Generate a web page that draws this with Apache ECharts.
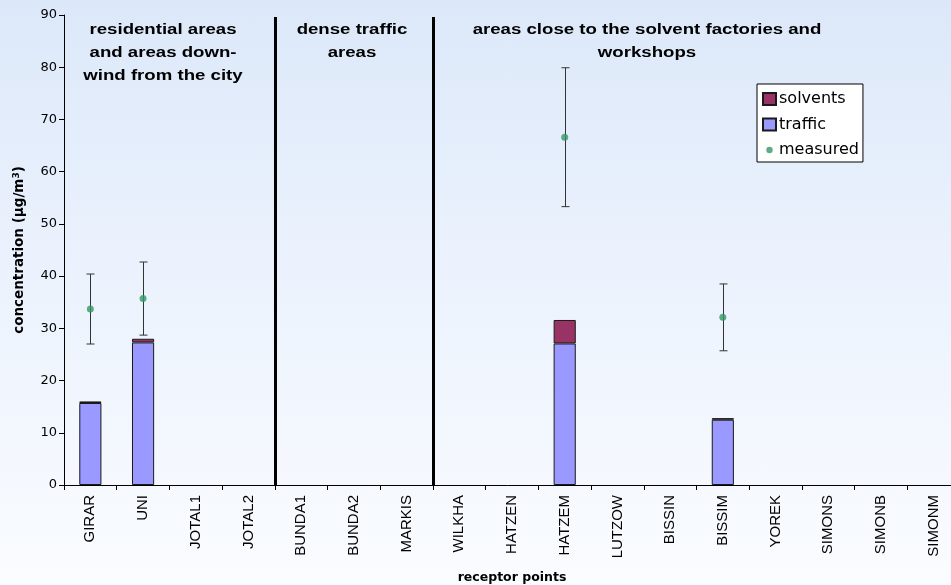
<!DOCTYPE html>
<html>
<head>
<meta charset="utf-8">
<script src="https://cdn.jsdelivr.net/npm/echarts@6/dist/echarts.min.js"></script>
<style>
  html, body { margin: 0; padding: 0; overflow: hidden; }
  #chart {
    width: 951px; height: 585px;
    background: linear-gradient(to bottom, #dce8f9 0%, #ebf2fd 45%, #fafcff 100%);
  }
</style>
</head>
<body>
<div id="chart"></div>
<script>
// Receptor points along the x axis
const receptors = ['GIRAR', 'UNI', 'JOTAL1', 'JOTAL2', 'BUNDA1', 'BUNDA2', 'MARKIS',
  'WILKHA', 'HATZEN', 'HATZEM', 'LUTZOW', 'BISSIN', 'BISSIM', 'YOREK', 'SIMONS', 'SIMONB', 'SIMONM'];

// Modelled contributions (µg/m³)
const traffic  = [15.7, 27.3, null, null, null, null, null, null, null, 27.1, null, null, 12.5, null, null, null, null];
const solvents = [0.3, 0.7, null, null, null, null, null, null, null, 4.5, null, null, 0.3, null, null, null, null];

// Measured concentrations with lower / upper uncertainty limits
const measured = [33.7, 35.7, null, null, null, null, null, null, null, 66.6, null, null, 32.1, null, null, null, null];
const measuredLow  = [27.0, 28.7, null, null, null, null, null, null, null, 53.3, null, null, 25.7, null, null, null, null];
const measuredHigh = [40.4, 42.7, null, null, null, null, null, null, null, 79.9, null, null, 38.5, null, null, null, null];

// Boundaries between the area groups (in category units from the left edge)
const groupBounds = [4, 7];
const yTicks = [0, 10, 20, 30, 40, 50, 60, 70, 80, 90];

const SANS = 'Liberation Sans, Arial, sans-serif';
const WIDE = 'DejaVu Sans, sans-serif';

const errorData = [];
measured.forEach((v, i) => {
  if (v != null) errorData.push([i, measuredLow[i], measuredHigh[i]]);
});

// small dot inside a full-size box so the legend marker stays small
const dotIcon = 'path://M0,0M13,12M6.5,2.8A3.2,3.2,0,1,1,6.49,2.8Z';

const chart = echarts.init(document.getElementById('chart'));
chart.setOption({
  animation: false,
  textStyle: { fontFamily: SANS },
  grid: { left: 64, right: -9, top: 15, bottom: 100, containLabel: false, outerBoundsMode: 'none' },
  legend: {
    orient: 'vertical',
    left: 757, top: 84,
    data: [
      { name: 'solvents', icon: 'rect' },
      { name: 'traffic', icon: 'rect' },
      { name: 'measured', icon: dotIcon }
    ],
    itemWidth: 13, itemHeight: 12, itemGap: 9.5,
    padding: [7, 4, 4, 5],
    backgroundColor: '#ffffff',
    borderColor: '#000000', borderWidth: 1, borderRadius: 0,
    textStyle: { fontSize: 16, lineHeight: 16, color: '#000', fontFamily: WIDE, padding: [0, 0, 0, -2] }
  },
  xAxis: [{
    type: 'category',
    data: receptors,
    name: 'receptor points',
    nameLocation: 'middle',
    nameGap: 86,
    nameTextStyle: { fontSize: 12.5, fontWeight: 'bold', color: '#000', fontFamily: WIDE },
    axisLine: { lineStyle: { color: '#000', width: 1 } },
    axisTick: { show: true, length: 5, lineStyle: { color: '#000' } },
    axisLabel: { rotate: 90, fontSize: 15, color: '#000', margin: 10, interval: 0 }
  }, {
    type: 'value',
    min: 0, max: receptors.length,
    show: false
  }],
  yAxis: {
    type: 'value',
    min: 0, max: 90, interval: 10,
    name: 'concentration (μg/m{sup|3})',
    nameLocation: 'middle',
    nameRotate: 90,
    nameGap: 37,
    nameTextStyle: {
      fontSize: 13.5, fontWeight: 'bold', color: '#000', fontFamily: WIDE,
      rich: { sup: { fontSize: 9, fontWeight: 'bold', fontFamily: WIDE, verticalAlign: 'top', padding: [0, 0, 6, 0] } }
    },
    axisLine: { show: true, lineStyle: { color: '#000', width: 1 } },
    axisTick: { show: true, length: 5, lineStyle: { color: '#000' } },
    axisLabel: { fontSize: 13, color: '#000', margin: 7, fontFamily: WIDE,
      formatter: v => (yTicks.indexOf(v) >= 0 ? String(v) : '') },
    splitLine: { show: false }
  },
  series: [
    {
      name: 'traffic', type: 'bar', stack: 'model', data: traffic,
      barWidth: '42%',
      itemStyle: { color: '#9999ff', borderColor: '#1a1a1a', borderWidth: 1 }
    },
    {
      name: 'solvents', type: 'bar', stack: 'model', data: solvents,
      barWidth: '42%',
      itemStyle: { color: '#993366', borderColor: '#1a1a1a', borderWidth: 1 }
    },
    {
      name: 'error', type: 'custom', data: errorData, z: 3,
      renderItem: (params, api) => {
        const lo = api.coord([api.value(0), api.value(1)]);
        const hi = api.coord([api.value(0), api.value(2)]);
        const x = Math.round(lo[0]) + 0.5;
        const cap = 4;
        const style = { stroke: '#333333', lineWidth: 1 };
        return {
          type: 'group',
          children: [
            { type: 'line', shape: { x1: x, y1: lo[1], x2: x, y2: hi[1] }, style },
            { type: 'line', shape: { x1: x - cap, y1: lo[1], x2: x + cap, y2: lo[1] }, style },
            { type: 'line', shape: { x1: x - cap, y1: hi[1], x2: x + cap, y2: hi[1] }, style }
          ]
        };
      }
    },
    {
      name: 'measured', type: 'scatter', data: measured, z: 4,
      symbol: 'circle', symbolSize: 7,
      itemStyle: { color: '#339966' }
    },
    {
      name: 'groups', type: 'line', xAxisIndex: 1, data: [],
      markLine: {
        silent: true, symbol: 'none',
        label: { show: false },
        lineStyle: { color: '#000', width: 3, type: 'solid' },
        data: groupBounds.map(b => [{ xAxis: b, y: 17 }, { xAxis: b, y: 485 }])
      }
    }
  ],
  graphic: [
    {
      type: 'text', x: 163, y: 19, scaleX: 1.33,
      style: {
        text: 'residential areas\nand areas down-\nwind from the city',
        font: 'bold 14px ' + SANS, fill: '#000', align: 'center', verticalAlign: 'top', lineHeight: 23
      }
    },
    {
      type: 'text', x: 352, y: 19, scaleX: 1.33,
      style: {
        text: 'dense traffic\nareas',
        font: 'bold 14px ' + SANS, fill: '#000', align: 'center', verticalAlign: 'top', lineHeight: 23
      }
    },
    {
      type: 'text', x: 647, y: 19, scaleX: 1.33,
      style: {
        text: 'areas close to the solvent factories and\nworkshops',
        font: 'bold 14px ' + SANS, fill: '#000', align: 'center', verticalAlign: 'top', lineHeight: 23
      }
    }
  ]
});
</script>
</body>
</html>
